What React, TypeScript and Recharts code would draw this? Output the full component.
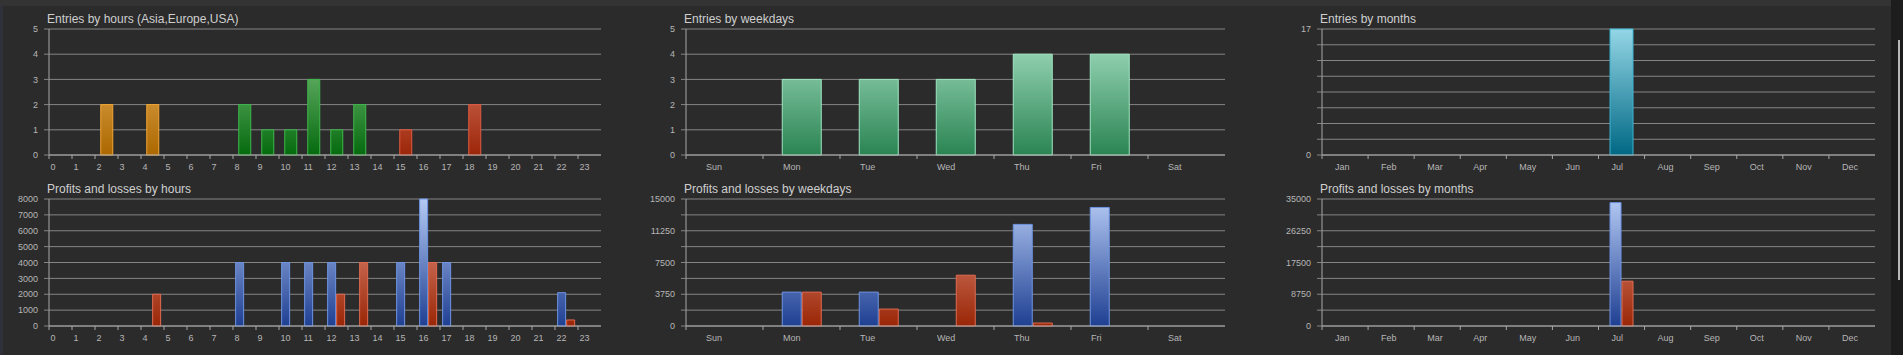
import React from "react";
import { BarChart, Bar, XAxis, YAxis, CartesianGrid, Cell } from "recharts";

// categories
const hours = ["0", "1", "2", "3", "4", "5", "6", "7", "8", "9", "10", "11", "12", "13", "14", "15", "16", "17", "18", "19", "20", "21", "22", "23"];
const hourRegions = [
  "asia", "asia", "asia", "asia", "asia", "asia", "asia", "asia",
  "europe", "europe", "europe", "europe", "europe", "europe", "europe",
  "usa", "usa", "usa", "usa", "usa", "usa", "usa", "usa", "usa",
];
const weekdays = ["Sun", "Mon", "Tue", "Wed", "Thu", "Fri", "Sat"];
const months = ["Jan", "Feb", "Mar", "Apr", "May", "Jun", "Jul", "Aug", "Sep", "Oct", "Nov", "Dec"];

// series
const hourEntries = [0, 0, 2, 0, 2, 0, 0, 0, 2, 1, 1, 3, 1, 2, 0, 1, 0, 0, 2, 0, 0, 0, 0, 0];
const hourProfit = [0, 0, 0, 0, 0, 0, 0, 0, 4000, 0, 4000, 4000, 4000, 0, 0, 4000, 8000, 4000, 0, 0, 0, 0, 2100, 0];
const hourLoss = [0, 0, 0, 0, 2000, 0, 0, 0, 0, 0, 0, 0, 2000, 4000, 0, 0, 4000, 0, 0, 0, 0, 0, 380, 0];

const weekdayEntries = [0, 3, 3, 3, 4, 4, 0];
const weekdayProfit = [0, 4000, 4000, 0, 12000, 14000, 0];
const weekdayLoss = [0, 4000, 2000, 6000, 350, 0, 0];

const monthEntries = [0, 0, 0, 0, 0, 0, 17, 0, 0, 0, 0, 0];
const monthProfit = [0, 0, 0, 0, 0, 0, 34000, 0, 0, 0, 0, 0];
const monthLoss = [0, 0, 0, 0, 0, 0, 12350, 0, 0, 0, 0, 0];

// y ticks (gridlines) and the ones that get a label
const countTicks = [0, 1, 2, 3, 4, 5];
const monthCountTicks = [0, 2.125, 4.25, 6.375, 8.5, 10.625, 12.75, 14.875, 17];
const monthCountLabels = [0, 17];
const hourPnlTicks = [0, 1000, 2000, 3000, 4000, 5000, 6000, 7000, 8000];
const weekdayPnlTicks = [0, 1875, 3750, 5625, 7500, 9375, 11250, 13125, 15000];
const weekdayPnlLabels = [0, 3750, 7500, 11250, 15000];
const monthPnlTicks = [0, 4375, 8750, 13125, 17500, 21875, 26250, 30625, 35000];
const monthPnlLabels = [0, 8750, 17500, 26250, 35000];

const BG = "#2b2b2b";
const GRID = "#858585";
const AXIS = "#a8a8a8";
const TEXT = "#b6b6b6";
const TITLE = "#cfcfcf";
const FONT = "'Liberation Sans', Arial, sans-serif";

const H = 178;
const XH = 23;
const PW = 634;

const regionFill: Record<string, string> = { asia: "asia", europe: "europe", usa: "usa" };
const regionStroke: Record<string, string> = { asia: "#f2a530", europe: "#3db84a", usa: "#e05a40" };

const grad = (id: string, top: string, bottom: string, y1: number, y2: number) => (
  <linearGradient id={id} key={id} gradientUnits="userSpaceOnUse" x1="0" x2="0" y1={y1} y2={y2}>
    <stop offset="0%" stopColor={top} />
    <stop offset="100%" stopColor={bottom} />
  </linearGradient>
);

const makeXTick = (bw: number, dx: number) => (props: any) => {
  const { x, y, payload } = props;
  const x0 = x - bw / 2;
  return (
    <g>
      <line x1={x0} x2={x0} y1={y} y2={y + 4} stroke={AXIS} />
      <text x={x0 + dx} y={y + 14.5} fill={TEXT} fontSize={9} fontFamily={FONT} textAnchor="start">
        {payload.value}
      </text>
    </g>
  );
};

const makeYTick = (labels?: number[]) => (props: any) => {
  const { x, y, payload } = props;
  if (labels && !labels.includes(payload.value)) return <g />;
  return (
    <text x={x} y={y + 3.2} fill={TEXT} fontSize={9} fontFamily={FONT} textAnchor="end">
      {payload.value}
    </text>
  );
};

type PanelProps = {
  left: number;
  top: number;
  axisX: number;
  plotRight: number;
  plotTop: number;
  title: string;
  data: any[];
  yMax: number;
  yTicks: number[];
  yLabels?: number[];
  labelDx: number;
  gap: string;
  defs: React.ReactNode;
  children: React.ReactNode;
};

const Panel = ({ left, top, axisX, plotRight, plotTop, title, data, yMax, yTicks, yLabels, labelDx, gap, defs, children }: PanelProps) => {
  const yw = axisX - left;
  const bw = (plotRight - axisX) / data.length;
  return (
    <div style={{ position: "absolute", left, top, width: PW, height: H }}>
      <div style={{ position: "absolute", left: yw - 2, top: plotTop - 17, fontSize: 12, lineHeight: "14px", color: TITLE, fontFamily: FONT, whiteSpace: "nowrap" }}>
        {title}
      </div>
      <BarChart
        width={PW}
        height={H}
        data={data}
        margin={{ top: plotTop, right: PW - (plotRight - left), left: 0, bottom: 0 }}
        barCategoryGap={gap}
        barGap={1}
      >
        <defs>{defs}</defs>
        <CartesianGrid vertical={false} stroke={GRID} />
        <XAxis
          dataKey="label"
          interval={0}
          height={XH}
          axisLine={{ stroke: AXIS }}
          tickLine={false}
          tickSize={0}
          tickMargin={0}
          tick={makeXTick(bw, labelDx)}
        />
        <YAxis
          type="number"
          width={yw}
          domain={[0, yMax]}
          ticks={yTicks}
          interval={0}
          axisLine={{ stroke: AXIS }}
          tickLine={{ stroke: GRID }}
          tickSize={5}
          tickMargin={6}
          tick={makeYTick(yLabels)}
        />
        {children}
      </BarChart>
    </div>
  );
};

const App = () => {
  const hourEntryData = hours.map((label, i) => ({ label, v: hourEntries[i], region: hourRegions[i] }));
  const hourPnlData = hours.map((label, i) => ({ label, profit: hourProfit[i], loss: hourLoss[i] }));
  const weekdayEntryData = weekdays.map((label, i) => ({ label, v: weekdayEntries[i] }));
  const weekdayPnlData = weekdays.map((label, i) => ({ label, profit: weekdayProfit[i], loss: weekdayLoss[i] }));
  const monthEntryData = months.map((label, i) => ({ label, v: monthEntries[i] }));
  const monthPnlData = months.map((label, i) => ({ label, profit: monthProfit[i], loss: monthLoss[i] }));

  const topPT = 29;
  const botPT = 28;
  const pb = H - XH;

  const pnlDefs = (p: string, pt: number) => [
    grad(p + "blue", "#b4caf4", "#1f3f92", pt, pb),
    grad(p + "red", "#eca090", "#9a2606", pt, pb),
  ];
  const pnlBars = (p: string) => [
    <Bar key="p" dataKey="profit" fill={`url(#${p}blue)`} stroke="#6e94e4" strokeWidth={1} isAnimationActive={false} />,
    <Bar key="l" dataKey="loss" fill={`url(#${p}red)`} stroke="#e06a50" strokeWidth={1} isAnimationActive={false} />,
  ];

  return (
    <div style={{ position: "fixed", left: 0, top: 0, width: 1903, height: 355, background: BG, overflow: "hidden" }}>
      <div style={{ position: "absolute", left: 0, top: 0, width: 1891, height: 6, background: "#333333" }} />
      <div style={{ position: "absolute", left: 0, top: 6, width: 3, height: 349, background: "#2e3139" }} />
      <div style={{ position: "absolute", left: 1891, top: 0, width: 12, height: 355, background: "#1d1d1d" }} />
      <div style={{ position: "absolute", left: 1898, top: 40, width: 2, height: 240, background: "#b8b8b8" }} />

      <Panel
        left={0}
        top={0}
        axisX={49}
        plotRight={601}
        plotTop={topPT}
        title="Entries by hours (Asia,Europe,USA)"
        data={hourEntryData}
        yMax={5}
        yTicks={countTicks}
        labelDx={1.5}
        gap="25%"
        defs={[
          grad("asia", "#f5c070", "#ac6800", topPT, pb),
          grad("europe", "#8ccc8c", "#056a0e", topPT, pb),
          grad("usa", "#e89080", "#9c2608", topPT, pb),
        ]}
      >
        <Bar dataKey="v" strokeWidth={1} isAnimationActive={false}>
          {hourEntryData.map((d, i) => (
            <Cell key={i} fill={`url(#${regionFill[d.region]})`} stroke={regionStroke[d.region]} />
          ))}
        </Bar>
      </Panel>

      <Panel
        left={0}
        top={171}
        axisX={49}
        plotRight={601}
        plotTop={botPT}
        title="Profits and losses by hours"
        data={hourPnlData}
        yMax={8000}
        yTicks={hourPnlTicks}
        labelDx={1.5}
        gap="11.5%"
        defs={pnlDefs("h", botPT)}
      >
        {pnlBars("h")}
      </Panel>

      <Panel
        left={634}
        top={0}
        axisX={686}
        plotRight={1225}
        plotTop={topPT}
        title="Entries by weekdays"
        data={weekdayEntryData}
        yMax={5}
        yTicks={countTicks}
        labelDx={20}
        gap="25%"
        defs={[grad("wk", "#a8e1c5", "#2a8452", topPT, pb)]}
      >
        <Bar dataKey="v" fill="url(#wk)" stroke="#9ee6c2" strokeWidth={1} isAnimationActive={false} />
      </Panel>

      <Panel
        left={634}
        top={171}
        axisX={686}
        plotRight={1225}
        plotTop={botPT}
        title="Profits and losses by weekdays"
        data={weekdayPnlData}
        yMax={15000}
        yTicks={weekdayPnlTicks}
        yLabels={weekdayPnlLabels}
        labelDx={20}
        gap="25%"
        defs={pnlDefs("w", botPT)}
      >
        {pnlBars("w")}
      </Panel>

      <Panel
        left={1268}
        top={0}
        axisX={1322}
        plotRight={1875}
        plotTop={topPT}
        title="Entries by months"
        data={monthEntryData}
        yMax={17}
        yTicks={monthCountTicks}
        yLabels={monthCountLabels}
        labelDx={13}
        gap="25%"
        defs={[grad("mo", "#94d6e6", "#006884", topPT, pb)]}
      >
        <Bar dataKey="v" fill="url(#mo)" stroke="#3ab4d4" strokeWidth={1} isAnimationActive={false} />
      </Panel>

      <Panel
        left={1268}
        top={171}
        axisX={1322}
        plotRight={1875}
        plotTop={botPT}
        title="Profits and losses by months"
        data={monthPnlData}
        yMax={35000}
        yTicks={monthPnlTicks}
        yLabels={monthPnlLabels}
        labelDx={13}
        gap="25%"
        defs={pnlDefs("m", botPT)}
      >
        {pnlBars("m")}
      </Panel>
    </div>
  );
};

export default App;
